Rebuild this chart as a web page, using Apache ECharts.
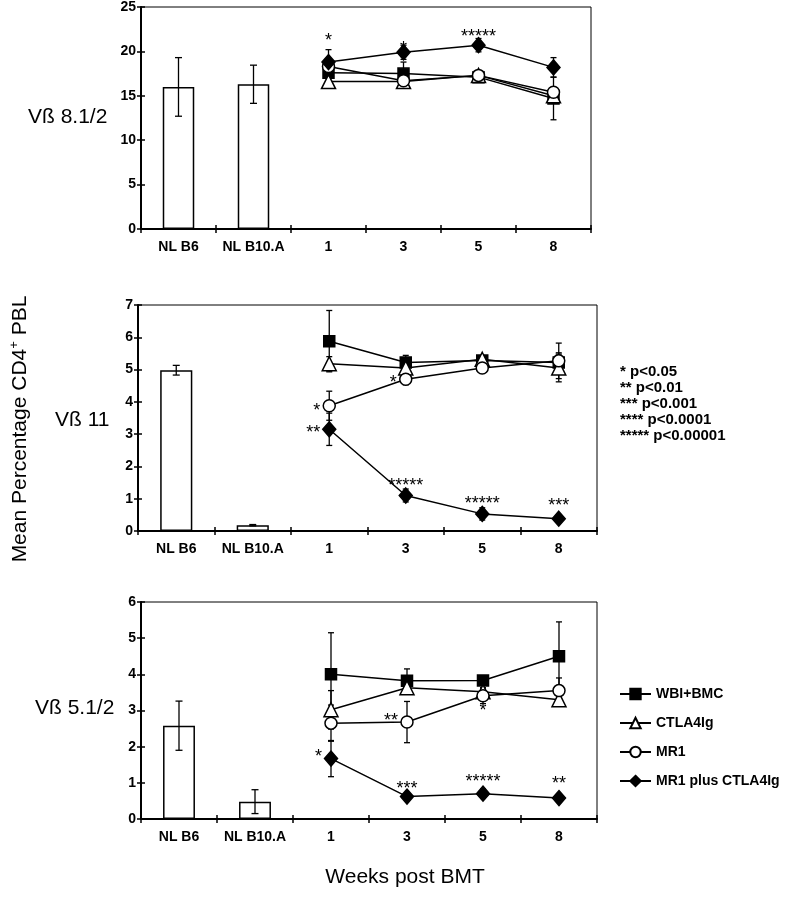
<!DOCTYPE html>
<html>
<head>
<meta charset="utf-8">
<script src="https://cdn.jsdelivr.net/npm/echarts@6/dist/echarts.min.js"></script>
<style>html,body{margin:0;padding:0;background:#fff}#c{width:790px;height:899px}</style>
</head>
<body>
<div id="c"></div>
<script>
// ---------- data ----------
const categories = ['NL B6', 'NL B10.A', '1', '3', '5', '8'];
const seriesNames = ['WBI+BMC', 'CTLA4Ig', 'MR1', 'MR1 plus CTLA4Ig'];
const panelLabels = ['Vß 8.1/2', 'Vß 11', 'Vß 5.1/2'];
const pValueLabels = ['* p<0.05', '** p<0.01', '*** p<0.001', '**** p<0.0001', '***** p<0.00001'];

// Panel 1: Vß 8.1/2
const p1Bars = [16.0, 16.3];
const p1BarsErr = [3.3, 2.15];
const p1WBI = [17.6, 17.5, 17.1, 14.7];
const p1WBIErr = [1.0, 1.3, 0.3, 2.4];
const p1CTLA = [16.6, 16.6, 17.3, 15.0];
const p1CTLAErr = [0.5, 0.3, 0.3, 0.4];
const p1MR1 = [18.3, 16.7, 17.3, 15.4];
const p1MR1Err = [0.5, 0.3, 0.5, 0.5];
const p1Combo = [18.8, 19.9, 20.7, 18.2];
const p1ComboErr = [1.4, 0.8, 0.75, 1.1];
// annotations: [category index, value, text, side]
const p1Stars = [[2, 21.7, '*', 'c'], [3, 20.8, '*', 'c'], [4, 22.2, '*****', 'c']];

// Panel 2: Vß 11
const p2Bars = [4.98, 0.18];
const p2BarsErr = [0.15, 0.02];
const p2WBI = [5.88, 5.22, 5.28, 5.22];
const p2WBIErr = [0.95, 0.22, 0.08, 0.3];
const p2CTLA = [5.18, 5.05, 5.32, 5.05];
const p2CTLAErr = [0.22, 0.1, 0.08, 0.43];
const p2MR1 = [3.88, 4.7, 5.05, 5.27];
const p2MR1Err = [0.45, 0.17, 0.08, 0.55];
const p2Combo = [3.15, 1.1, 0.53, 0.38];
const p2ComboErr = [0.5, 0.2, 0.19, 0.08];
const p2Stars = [[2, 3.88, '*', 'l'], [2, 3.2, '**', 'l'], [3, 4.75, '*', 'l'], [3, 1.55, '*****', 'c'], [4, 1.0, '*****', 'c'], [5, 0.93, '***', 'c']];

// Panel 3: Vß 5.1/2
const p3Bars = [2.58, 0.48];
const p3BarsErr = [0.68, 0.33];
const p3WBI = [4.0, 3.82, 3.83, 4.5];
const p3WBIErr = [1.15, 0.33, 0.1, 0.95];
const p3CTLA = [3.02, 3.63, 3.52, 3.3];
const p3CTLAErr = [0.53, 0.12, 0.1, 0.1];
const p3MR1 = [2.65, 2.68, 3.41, 3.55];
const p3MR1Err = [0.5, 0.57, 0.22, 0.35];
const p3Combo = [1.67, 0.62, 0.7, 0.58];
const p3ComboErr = [0.5, 0.08, 0.13, 0.12];
const p3Stars = [[2, 1.85, '*', 'l'], [3, 2.85, '**', 'l'], [4, 3.12, '*', 'c'], [3, 0.96, '***', 'c'], [4, 1.15, '*****', 'c'], [5, 1.11, '**', 'c']];

const yMax = [25, 7, 6];
const yInterval = [5, 1, 1];

// ---------- build ----------
const FONT = 'Arial, "Liberation Sans", sans-serif';
const panels = [
  {bars: p1Bars, barsErr: p1BarsErr, lines: [p1WBI, p1CTLA, p1MR1, p1Combo], errs: [p1WBIErr, p1CTLAErr, p1MR1Err, p1ComboErr], stars: p1Stars},
  {bars: p2Bars, barsErr: p2BarsErr, lines: [p2WBI, p2CTLA, p2MR1, p2Combo], errs: [p2WBIErr, p2CTLAErr, p2MR1Err, p2ComboErr], stars: p2Stars},
  {bars: p3Bars, barsErr: p3BarsErr, lines: [p3WBI, p3CTLA, p3MR1, p3Combo], errs: [p3WBIErr, p3CTLAErr, p3MR1Err, p3ComboErr], stars: p3Stars}
];
const grids = [
  {left: 141, top: 7, width: 450, height: 222},
  {left: 138, top: 305, width: 459, height: 226},
  {left: 141, top: 602, width: 456, height: 217}
];
const symbols = [
  {symbol: 'rect', size: 11, fill: '#000'},
  {symbol: 'triangle', size: 14, fill: '#fff'},
  {symbol: 'circle', size: 12, fill: '#fff'},
  {symbol: 'diamond', size: [13, 15], fill: '#000'}
];

const xAxes = [], yAxes = [], series = [];
panels.forEach((p, i) => {
  xAxes.push({
    gridIndex: i, type: 'category', data: categories, position: 'bottom',
    axisLine: {lineStyle: {color: '#000', width: 2}},
    axisTick: {show: true, length: 4, lineStyle: {color: '#000', width: 1.5}},
    axisLabel: {color: '#000', fontFamily: FONT, fontWeight: 'bold', fontSize: 14, margin: 11, interval: 0},
    splitLine: {show: false}
  });
  xAxes.push({
    gridIndex: i, type: 'category', data: categories, position: 'bottom',
    axisLine: {show: false},
    axisTick: {show: true, inside: true, length: 4, lineStyle: {color: '#000', width: 1.5}},
    axisLabel: {show: false}, splitLine: {show: false}
  });
  yAxes.push({
    gridIndex: i, type: 'value', min: 0, max: yMax[i], interval: yInterval[i], position: 'left',
    axisLine: {show: true, lineStyle: {color: '#000', width: 2}},
    axisTick: {show: true, length: 4, lineStyle: {color: '#000', width: 1.5}},
    axisLabel: {color: '#000', fontFamily: FONT, fontWeight: 'bold', fontSize: 14, margin: 5},
    splitLine: {show: false}
  });
  yAxes.push({
    gridIndex: i, type: 'value', min: 0, max: yMax[i], interval: yInterval[i], position: 'left',
    axisLine: {show: false},
    axisTick: {show: true, inside: true, length: 4, lineStyle: {color: '#000', width: 1.5}},
    axisLabel: {show: false}, splitLine: {show: false}
  });
  const xi = i * 2, yi = i * 2;
  // bars
  series.push({
    type: 'bar', xAxisIndex: xi, yAxisIndex: yi, barWidth: '42%',
    data: [p.bars[0], p.bars[1], '-', '-', '-', '-'],
    itemStyle: {color: '#fff', borderColor: '#000', borderWidth: 1.5},
    silent: true, animation: false, z: 2
  });
  // error bars
  const errData = [];
  p.bars.forEach((v, k) => errData.push([k, v - p.barsErr[k], v + p.barsErr[k], 6]));
  p.lines.forEach((arr, s) => arr.forEach((v, k) => errData.push([k + 2, v - p.errs[s][k], v + p.errs[s][k], 5])));
  series.push({
    type: 'custom', xAxisIndex: xi, yAxisIndex: yi, data: errData, silent: true, animation: false, z: 3,
    renderItem: (params, api) => {
      const lo = api.coord([api.value(0), api.value(1)]);
      const hi = api.coord([api.value(0), api.value(2)]);
      const w = api.value(3);
      const st = {stroke: '#000', lineWidth: 1.3, fill: null};
      return {type: 'group', children: [
        {type: 'line', shape: {x1: lo[0], y1: lo[1], x2: hi[0], y2: hi[1]}, style: st},
        {type: 'line', shape: {x1: lo[0] - w / 2 - 0.5, y1: lo[1], x2: lo[0] + w / 2 + 0.5, y2: lo[1]}, style: st},
        {type: 'line', shape: {x1: hi[0] - w / 2 - 0.5, y1: hi[1], x2: hi[0] + w / 2 + 0.5, y2: hi[1]}, style: st}
      ]};
    }
  });
  // lines
  p.lines.forEach((arr, s) => {
    series.push({
      type: 'line', name: seriesNames[s], xAxisIndex: xi, yAxisIndex: yi,
      data: ['-', '-'].concat(arr),
      symbol: symbols[s].symbol, symbolSize: symbols[s].size, showAllSymbol: true,
      lineStyle: {color: '#000', width: 1.5},
      itemStyle: {color: symbols[s].fill, borderColor: '#000', borderWidth: 1.5},
      silent: true, animation: false, z: 4 + s
    });
  });
  // stars
  const stars = p.stars;
  series.push({
    type: 'custom', xAxisIndex: xi, yAxisIndex: yi, data: stars.map(a => [a[0], a[1]]), silent: true, animation: false, z: 10,
    renderItem: (params, api) => {
      const a = stars[params.dataIndex];
      const pt = api.coord([api.value(0), api.value(1)]);
      const left = a[3] === 'l';
      return {type: 'text', x: left ? pt[0] - 9 : pt[0], y: pt[1] + 5,
        style: {text: a[2], fill: '#000', font: '18px ' + FONT, textAlign: left ? 'right' : 'center', textVerticalAlign: 'middle'}};
    }
  });
});

const graphics = [
  {type: 'text', x: 20, y: 429, rotation: Math.PI / 2, style: {
    text: 'Mean Percentage CD4{s|+} PBL', fill: '#000', font: '21px ' + FONT, textAlign: 'center', textVerticalAlign: 'middle',
    rich: {s: {fontSize: 13, fontFamily: FONT, padding: [0, 0, 11, 0], fill: '#000'}}
  }},
  {type: 'text', x: 28, y: 117, style: {text: panelLabels[0], fill: '#000', font: '21px ' + FONT, textVerticalAlign: 'middle'}},
  {type: 'text', x: 55, y: 420, style: {text: panelLabels[1], fill: '#000', font: '21px ' + FONT, textVerticalAlign: 'middle'}},
  {type: 'text', x: 35, y: 708, style: {text: panelLabels[2], fill: '#000', font: '21px ' + FONT, textVerticalAlign: 'middle'}},
  {type: 'text', x: 405, y: 877, style: {text: 'Weeks post BMT', fill: '#000', font: '21px ' + FONT, textAlign: 'center', textVerticalAlign: 'middle'}}
];
pValueLabels.forEach((t, k) => graphics.push({type: 'text', x: 620, y: 372 + k * 16,
  style: {text: t, fill: '#000', font: 'bold 15px ' + FONT, textVerticalAlign: 'middle'}}));

const chart = echarts.init(document.getElementById('c'), null, {renderer: 'canvas'});
chart.setOption({
  backgroundColor: '#fff',
  animation: false,
  grid: grids.map(g => Object.assign({show: true, borderColor: '#000', borderWidth: 1, backgroundColor: 'transparent'}, g)),
  xAxis: xAxes,
  yAxis: yAxes,
  legend: {
    data: seriesNames, orient: 'vertical', left: 614, top: 682, itemWidth: 31, itemHeight: 13, itemGap: 15,
    textStyle: {color: '#000', fontFamily: FONT, fontWeight: 'bold', fontSize: 14}, selectedMode: false
  },
  graphic: graphics,
  series: series
});
</script>
</body>
</html>
